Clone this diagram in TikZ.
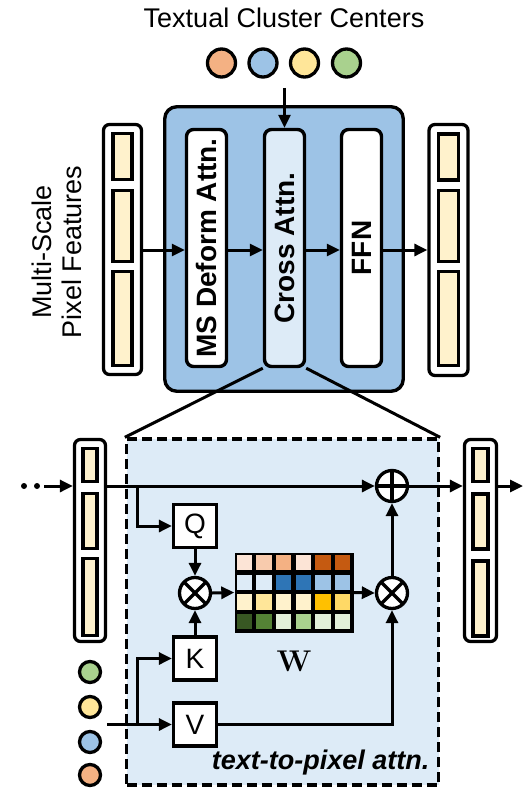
\documentclass[tikz,border=0pt]{standalone}
\usepackage{fontspec}
\setsansfont{Liberation Sans}
\usepackage{graphicx}
\usetikzlibrary{arrows.meta,calc}
\definecolor{blueM}{HTML}{9DC3E6}
\definecolor{blueL}{HTML}{DDEBF7}
\definecolor{featc}{HTML}{FFF2CC}
\definecolor{o1}{HTML}{FCE4D6}
\definecolor{o2}{HTML}{F8CBAD}
\definecolor{o3}{HTML}{F4B183}
\definecolor{o4}{HTML}{C55A11}
\definecolor{b1}{HTML}{DDEBF7}
\definecolor{b2}{HTML}{2E75B6}
\definecolor{b3}{HTML}{9DC3E6}
\definecolor{y1}{HTML}{FFF2CC}
\definecolor{y2}{HTML}{FFE699}
\definecolor{y3}{HTML}{FFC000}
\definecolor{y4}{HTML}{FFD966}
\definecolor{g1}{HTML}{385723}
\definecolor{g2}{HTML}{548235}
\definecolor{g3}{HTML}{E2F0D9}
\definecolor{g4}{HTML}{A9D18E}
\tikzset{
  lw/.style={line width=3.3pt},
  featcol/.style={draw, lw, fill=white, rounded corners=6pt, inner sep=0pt},
  featcell/.style={draw, lw, fill=featc, inner sep=0pt},
  blk/.style={draw, line width=3.4pt, rounded corners=7pt, inner sep=0pt,
    minimum width=40pt, minimum height=237pt,
    font=\sffamily\bfseries\fontsize{28}{30}\selectfont},
  arr/.style={line width=3pt, -{Triangle[length=13pt,width=12pt]}},
  ln/.style={line width=3pt},
  letterbox/.style={draw, lw, fill=white, minimum size=43pt, inner sep=0pt,
    font=\sffamily\fontsize{28}{30}\selectfont},
  tcirc/.style={circle, draw, lw, minimum size=28pt, inner sep=0pt},
  scirc/.style={circle, draw, lw, minimum size=21pt, inner sep=0pt},
  opbase/.style={circle, draw, lw, fill=white, minimum size=31pt, inner sep=0pt},
  otimesop/.style={opbase, path picture={
      \draw[lw] (path picture bounding box.north west) -- (path picture bounding box.south east);
      \draw[lw] (path picture bounding box.north east) -- (path picture bounding box.south west);}},
  oplusop/.style={opbase, path picture={
      \draw[lw] (path picture bounding box.north) -- (path picture bounding box.south);
      \draw[lw] (path picture bounding box.west) -- (path picture bounding box.east);}},
}
\begin{document}
\begin{tikzpicture}[x=1pt,y=-1pt]
\useasboundingbox (0,0) rectangle (525,789);

% ---------- top part ----------
\node[font=\sffamily\fontsize{27}{30}\selectfont] (title) at (284,18) {Textual Cluster Centers};
\node[tcirc, fill=o3] (tc1) at (221.5,63) {};
\node[tcirc, fill=b3] (tc2) at (263,63) {};
\node[tcirc, fill=y2] (tc3) at (304.5,63) {};
\node[tcirc, fill=g4] (tc4) at (346.5,63) {};

\node[draw, line width=3.4pt, fill=blueM, rounded corners=12pt, minimum width=238.5pt, minimum height=284.5pt, inner sep=0pt] (bigbox) at (284,249) {};
\node[blk, fill=white] (ms) at (206.5,248) {\rotatebox{90}{MS Deform Attn.}};
\node[blk, fill=blueL] (cross) at (284.5,248) {\rotatebox{90}{Cross Attn.}};
\node[blk, fill=white] (ffn) at (361.5,248) {\rotatebox{90}{FFN}};

\coordinate (tcin) at (284.5,88);
\draw[arr] (tcin) -- (cross.north);

\node[rotate=90, align=center, font=\sffamily\fontsize{27}{30}\selectfont] (mslabel) at (57,252) {Multi-Scale\\Pixel Features};

% left top column
\node[featcol, minimum width=38pt, minimum height=250pt] (colL) at (122.5,249.5) {};
\node[featcell, minimum width=19pt, minimum height=46pt] (colLa) at (122.5,156.5) {};
\node[featcell, minimum width=19pt, minimum height=71pt] (colLb) at (122.5,226) {};
\node[featcell, minimum width=19pt, minimum height=94pt] (colLc) at (122.5,318.5) {};
% right top column
\node[featcol, minimum width=39pt, minimum height=251pt] (colR) at (448.5,250) {};
\node[featcell, minimum width=20pt, minimum height=46pt] (colRa) at (448.5,157) {};
\node[featcell, minimum width=20pt, minimum height=71pt] (colRb) at (448.5,226) {};
\node[featcell, minimum width=20pt, minimum height=94pt] (colRc) at (448.5,318.5) {};

\draw[arr] (colL.east |- 0,250) -- (ms.west |- 0,250);
\draw[arr] (ms.east |- 0,250) -- (cross.west |- 0,250);
\draw[arr] (cross.east |- 0,250) -- (ffn.west |- 0,250);
\draw[arr] (ffn.east |- 0,250) -- (colR.west |- 0,250);

% ---------- bottom part ----------
\node[draw, line width=3.3pt, dash pattern=on 10pt off 5pt, fill=blueL, minimum width=312pt, minimum height=346pt, inner sep=0pt] (dbox) at (282.5,612) {};
\draw[ln] (cross.south west) -- (dbox.north west);
\draw[ln] (cross.south east) -- (dbox.north east);

% bottom columns
\node[featcol, minimum width=31pt, minimum height=202pt] (colL2) at (90,540.5) {};
\node[featcell, minimum width=14pt, minimum height=33pt] (colL2a) at (90,465) {};
\node[featcell, minimum width=14pt, minimum height=55pt] (colL2b) at (90,521) {};
\node[featcell, minimum width=14pt, minimum height=77pt] (colL2c) at (90,597) {};
\node[featcol, minimum width=32pt, minimum height=202pt] (colR2) at (480.5,540.5) {};
\node[featcell, minimum width=15pt, minimum height=33pt] (colR2a) at (480.5,465) {};
\node[featcell, minimum width=15pt, minimum height=55pt] (colR2b) at (480.5,521.5) {};
\node[featcell, minimum width=15pt, minimum height=75pt] (colR2c) at (480.5,598.5) {};

% small circles
\node[scirc, fill=g4] (sc1) at (90,672) {};
\node[scirc, fill=y2] (sc2) at (90,707) {};
\node[scirc, fill=b3] (sc3) at (90,742) {};
\node[scirc, fill=o3] (sc4) at (90,775) {};

% dots
\node[circle, fill=black, inner sep=0pt, minimum size=6pt] (dot1) at (24,486) {};
\node[circle, fill=black, inner sep=0pt, minimum size=6pt] (dot2) at (37,486) {};

% Q K V
\node[letterbox] (Q) at (195,526) {Q};
\node[letterbox] (K) at (195,658.5) {K};
\node[letterbox] (V) at (195,724.5) {V};

% operators
\node[otimesop] (m1) at (195,593) {};
\node[otimesop] (m2) at (392,593) {};
\node[oplusop] (plus) at (392,486) {};

% matrix W
\node[fill=black, minimum width=119pt, minimum height=80pt, inner sep=0pt] (Wmat) at (294,592.5) {};
\foreach \col/\cc in {0/o1,1/o2,2/o3,3/o1,4/o4,5/o4}
  \fill[\cc] ({234.5+\col*19.667+2.3},{552.5+0*19.75+2.3}) rectangle +(15.2,15.2);
\foreach \col/\cc in {0/b1,1/b1,2/b2,3/b2,4/b3,5/b3}
  \fill[\cc] ({234.5+\col*19.667+2.3},{552.5+1*19.75+2.3}) rectangle +(15.2,15.2);
\foreach \col/\cc in {0/y1,1/y2,2/y1,3/y1,4/y3,5/y4}
  \fill[\cc] ({234.5+\col*19.667+2.3},{552.5+2*19.75+2.3}) rectangle +(15.2,15.2);
\foreach \col/\cc in {0/g1,1/g2,2/g3,3/g4,4/g3,5/g3}
  \fill[\cc] ({234.5+\col*19.667+2.3},{552.5+3*19.75+2.3}) rectangle +(15.2,15.2);
\node[font=\rmfamily\bfseries\fontsize{30}{30}\selectfont] (wlab) at (294,661) {W};

\node[anchor=east, font=\sffamily\bfseries\itshape\fontsize{27}{30}\selectfont] (tlab) at (433,763) {text-to-pixel attn.};

% connectors
\coordinate (inL) at (44,486);
\coordinate (bq) at (137,486);
\coordinate (vin) at (107,724.5);
\coordinate (bk) at (137,724.5);
\coordinate (outR) at (523,486);
\draw[arr] (inL) -- (inL -| colL2.west);
\draw[arr] (plus.west -| colL2.east) -- (plus.west);
\draw[arr] (bq) |- (Q.west);
\draw[arr] (vin) -- (V.west);
\draw[arr] (bk) |- (K.west);
\draw[arr] (Q.south) -- (m1.north);
\draw[arr] (K.north) -- (m1.south);
\draw[arr] (m1.east) -- (Wmat.west);
\draw[arr] (Wmat.east) -- (m2.west);
\draw[arr] (V.east) -| (m2.south);
\draw[arr] (m2.north) -- (plus.south);
\draw[arr] (plus.east) -- (plus.east -| colR2.west);
\draw[arr] (plus.east -| colR2.east) -- (outR);
\end{tikzpicture}
\end{document}
